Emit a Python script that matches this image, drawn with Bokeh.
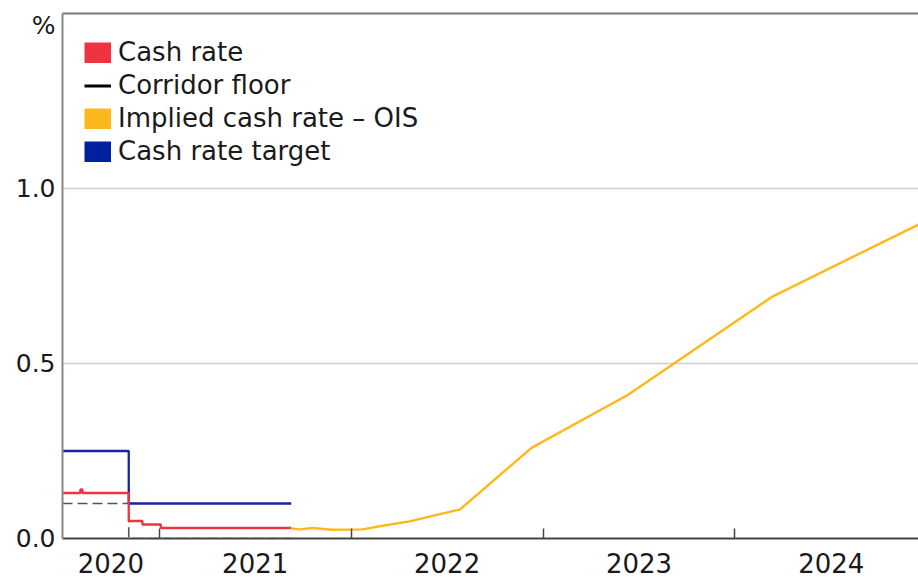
import pandas as pd
from bokeh.plotting import figure
from bokeh.models import (FixedTicker, Legend, LegendItem, LinearAxis, Range1d,
                          NumeralTickFormatter)
from bokeh.embed import file_html
from bokeh.resources import INLINE

# ---------------- data ----------------
cash_dates = ["2020-07-01", "2020-08-04", "2020-08-08", "2020-11-04",
              "2020-11-30", "2021-01-04", "2021-09-09"]
cash_vals = [0.13, 0.14, 0.13, 0.05, 0.04, 0.03, 0.03]

target_dates = ["2020-07-01", "2020-11-04", "2021-09-09"]
target_vals = [0.25, 0.10, 0.10]

floor_dates = ["2020-07-01", "2020-11-04", "2021-09-09"]
floor_vals = [0.10, 0.00, 0.00]

ois_dates = ["2021-09-09", "2021-09-25", "2021-10-20", "2021-11-25",
             "2022-01-23", "2022-02-24", "2022-04-22", "2022-07-27",
             "2022-12-10", "2023-06-11", "2024-03-13", "2024-12-15"]
ois_vals = [0.029, 0.026, 0.030, 0.025, 0.026, 0.035, 0.049, 0.083,
            0.259, 0.410, 0.692, 0.897]

years = [2020, 2021, 2022, 2023, 2024]
x_start, x_end = "2020-07-01", "2024-12-15"
y_ticks = [0.0, 0.5, 1.0]

RED = "#EF3340"
BLUE = "#16249E"
ORANGE = "#FFB81C"
FLOOR = "#555555"
TEXT = "#1a1a1a"
FONT = "DejaVu Sans"
NAN = float("nan")


def ms(d):
    return int(pd.Timestamp(d).value // 10**6)


def ms_list(ds):
    return [ms(d) for d in ds]


xs, xe = ms(x_start), ms(x_end)

p = figure(frame_width=856, frame_height=525, output_backend="svg",
           toolbar_location=None, x_axis_type="datetime",
           x_range=Range1d(xs, xe), y_range=Range1d(0, 1.5),
           min_border_left=62, min_border_right=0, min_border_top=13,
           min_border_bottom=39)
p.outline_line_color = None
p.background_fill_color = "white"

# series
p.step(ms_list(floor_dates), floor_vals, mode="after", line_color=FLOOR,
       line_width=1.6, line_dash="10 5")
p.step(ms_list(target_dates), target_vals, mode="after", line_color=BLUE, line_width=2.3)
p.step(ms_list(cash_dates), cash_vals, mode="after", line_color=RED, line_width=2.3)
p.line(ms_list(ois_dates), ois_vals, line_color=ORANGE, line_width=2.4)

# ---------------- axes ----------------
boundaries = [ms(f"{y}-01-01") for y in years[1:]]
label_pos = []
for y in years:
    a = max(ms(f"{y}-01-01"), xs)
    b = ms(f"{y + 1}-01-01")
    label_pos.append((a + b) // 2)

xa = p.xaxis[0]
xa.ticker = FixedTicker(ticks=label_pos, minor_ticks=boundaries)
xa.major_label_overrides = {pos: str(y) for pos, y in zip(label_pos, years)}
xa.major_tick_in = 0
xa.major_tick_out = 0
xa.minor_tick_in = 10
xa.minor_tick_out = 0
xa.minor_tick_line_color = "#444444"
xa.minor_tick_line_width = 1.5
xa.axis_line_color = "#444444"
xa.axis_line_width = 2
xa.major_label_standoff = 14
xa.major_label_text_font = FONT
xa.major_label_text_font_size = "26px"
xa.major_label_text_color = TEXT

pct_pos = 1.466
ya = p.yaxis[0]
ya.ticker = FixedTicker(ticks=y_ticks + [pct_pos], minor_ticks=[])
ya.formatter = NumeralTickFormatter(format="0.0")
ya.major_label_overrides = {pct_pos: "%"}
ya.major_tick_in = 0
ya.major_tick_out = 0
ya.minor_tick_line_color = None
ya.axis_line_color = "#888888"
ya.axis_line_width = 2
ya.major_label_standoff = 7
ya.major_label_text_font = FONT
ya.major_label_text_font_size = "25px"
ya.major_label_text_color = TEXT

top = LinearAxis(ticker=FixedTicker(ticks=[]), major_tick_in=0, major_tick_out=0,
                 minor_tick_in=0, minor_tick_out=0, major_label_standoff=0,
                 major_label_text_font_size="0px", axis_line_color="#777777",
                 axis_line_width=2)
p.add_layout(top, "above")

p.xgrid.grid_line_color = None
p.ygrid.ticker = FixedTicker(ticks=[t for t in y_ticks if t > 0])
p.ygrid.grid_line_color = "#cccccc"
p.ygrid.grid_line_width = 1.5

# ---------------- legend (swatch-only renderers, nothing plotted) ----------------
sw_cash = p.line(x=[NAN], y=[NAN], line_color=RED, line_width=21)
sw_floor = p.line(x=[NAN], y=[NAN], line_color="black", line_width=3)
sw_ois = p.line(x=[NAN], y=[NAN], line_color=ORANGE, line_width=21)
sw_target = p.line(x=[NAN], y=[NAN], line_color="#00209F", line_width=21)

legend = Legend(items=[
    LegendItem(label="Cash rate", renderers=[sw_cash]),
    LegendItem(label="Corridor floor", renderers=[sw_floor]),
    LegendItem(label="Implied cash rate – OIS", renderers=[sw_ois]),
    LegendItem(label="Cash rate target", renderers=[sw_target]),
], location=(22, 372))
legend.margin = 0
legend.padding = 0
legend.spacing = 3
legend.glyph_width = 27
legend.glyph_height = 21
legend.label_height = 30
legend.label_standoff = 7
legend.label_text_font = FONT
legend.label_text_font_size = "26px"
legend.label_text_color = TEXT
legend.background_fill_alpha = 0
legend.border_line_color = None
p.add_layout(legend, "center")

open("out.html", "w").write(file_html(p, INLINE))
